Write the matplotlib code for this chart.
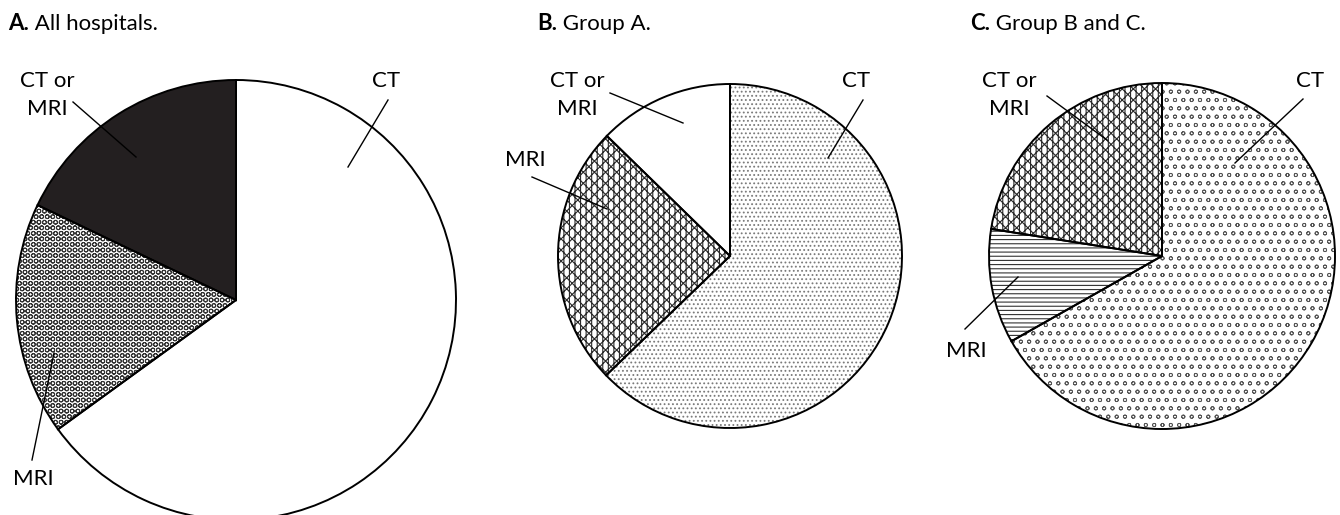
import matplotlib
matplotlib.use('Agg')
import matplotlib.pyplot as plt

plt.rcParams['font.family'] = ['Lato', 'DejaVu Sans']
plt.rcParams['hatch.linewidth'] = 0.8

# share of hospitals (%), order: CT, MRI, CT or MRI (clockwise from 12 o'clock)
labels = ['CT', 'MRI', 'CT or MRI']
all_hospitals = [65.0, 17.1, 17.9]
group_a = [62.8, 24.5, 12.7]
group_bc = [66.8, 10.7, 22.5]

W, H = 1340, 515
fig = plt.figure(figsize=(W / 100, H / 100), dpi=100)
ax = fig.add_axes([0, 0, 1, 1])


def Y(y):
    # image rows -> data y
    return H - y


# (facecolor, hatch, hatch colour, hatch width) per wedge
styles_a = [('white', None, 'black', 0.8), ('white', 'OOO', '#333333', 0.7),
            ('#231f20', None, '#231f20', 0.8)]
styles_b = [('white', '....', '#7a7a7a', 0.8), ('white', 'xxx|||', '#2a2a2a', 0.8),
            ('white', None, 'black', 0.8)]
styles_c = [('white', 'oo', '#555555', 0.6), ('white', '----', '#333333', 0.8),
            ('white', 'xxx|||', '#2a2a2a', 0.8)]

pies = [
    (all_hospitals, (236, 300), 220, styles_a),
    (group_a, (730, 256), 172, styles_b),
    (group_bc, (1162, 256), 173, styles_c),
]

for vals, (cx, cy), r, styles in pies:
    wedges, _ = ax.pie(vals, startangle=90, counterclock=False,
                       center=(cx, Y(cy)), radius=r)
    for w, (fc, hatch, hc, hlw) in zip(wedges, styles):
        w.set_facecolor(fc)
        w.set_edgecolor(hc)
        w.set_linewidth(0)
        if hatch:
            w.set_hatch(hatch)
            if hasattr(w, 'set_hatch_linewidth'):
                w.set_hatch_linewidth(hlw)
    # outlines on top
    ax.pie(vals, startangle=90, counterclock=False, center=(cx, Y(cy)), radius=r,
           wedgeprops=dict(fill=False, edgecolor='black', linewidth=1.4))

ax.set_xlim(0, W)
ax.set_ylim(0, H)
ax.set_aspect('auto')
ax.axis('off')

# panel titles
titles = [('A.', ' All hospitals.', 8), ('B.', ' Group A.', 537), ('C.', ' Group B and C.', 970)]
for lead, rest, x in titles:
    t = ax.text(x, Y(30), lead, fontsize=16, fontweight='bold', ha='left', va='baseline')
    ax.annotate(rest, xy=(1, 0), xycoords=t, fontsize=16, ha='left', va='bottom')

# labels with leader lines: (text, text pos, line start, line end)
callouts = [
    ('CT or\nMRI', (47, 95), (73, 102), (136, 157)),
    ('CT', (386, 81), (388, 100), (348, 167)),
    ('MRI', (33, 479), (32, 460), (54, 353)),
    ('CT or\nMRI', (577, 95), (610, 93), (683, 123)),
    ('CT', (856, 81), (863, 100), (828, 158)),
    ('MRI', (525, 160), (532, 177), (607, 209)),
    ('CT or\nMRI', (1009, 95), (1047, 96), (1107, 140)),
    ('CT', (1310, 81), (1303, 99), (1235, 163)),
    ('MRI', (966, 351), (965, 329), (1018, 277)),
]
for txt, (tx, ty), (x1, y1), (x2, y2) in callouts:
    ax.text(tx, Y(ty), txt, fontsize=16, ha='center', va='center',
            multialignment='center', linespacing=1.55)
    ax.plot([x1, x2], [Y(y1), Y(y2)], color='black', lw=1)

fig.savefig('out.png', dpi=100)
